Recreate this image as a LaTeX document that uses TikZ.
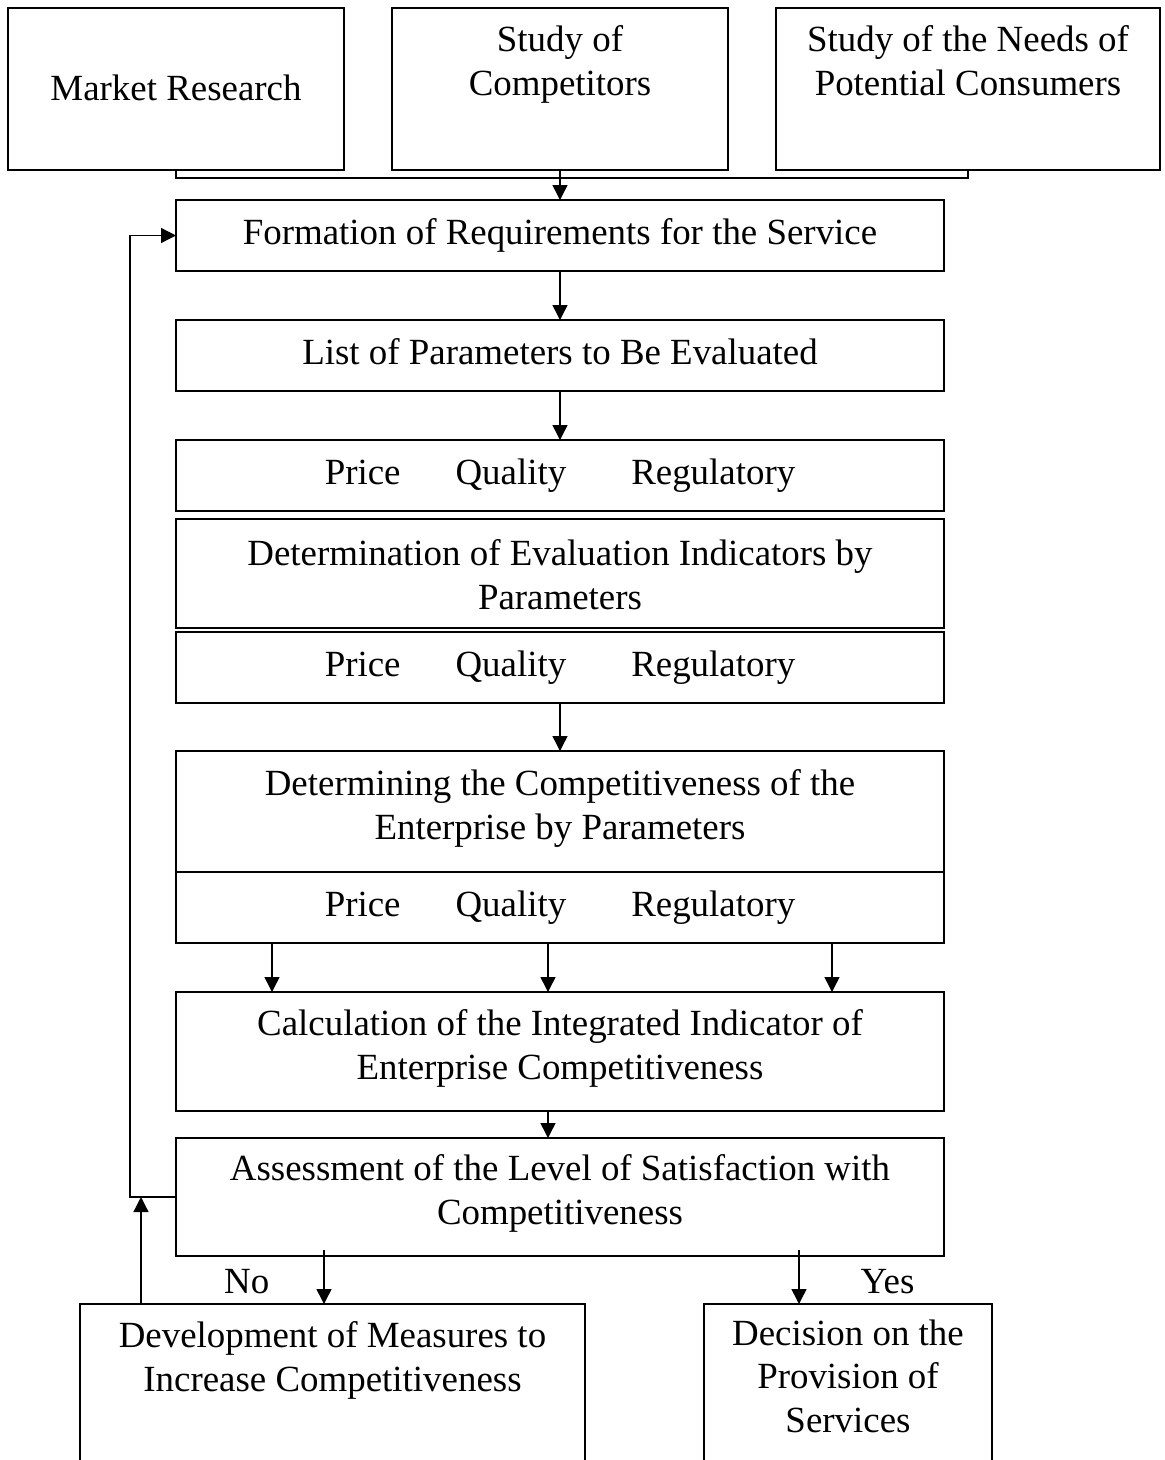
\documentclass[tikz,border=0pt]{standalone}
\usepackage{fontspec}
\setmainfont{Liberation Serif}
\usetikzlibrary{positioning, arrows.meta}
\tikzstyle{block} = [rectangle, draw=black, thick, align=center, outer sep=0, inner xsep=0.2cm, inner ysep=0.16cm, text height=0.72cm, text depth=0.38cm, minimum width=15.36cm, font=\fontsize{21}{24.5}\selectfont]
\tikzstyle{topblock} = [block, minimum width=6.72cm, text height=1.58cm, text depth=1.34cm]
\tikzstyle{openblock} = [block, draw=none]
\tikzstyle{answer} = [inner sep=0, font=\fontsize{21}{24.5}\selectfont]
\tikzstyle{arrow} = [thick,-{Triangle[length=0.3cm,width=0.3cm]}]
\newcommand{\params}{Price\hspace{1.1cm}Quality\hspace{1.3cm}Regulatory}

\begin{document}
\begin{tikzpicture}[node distance=0.98cm]
\useasboundingbox (0,0) rectangle (23.3,-29.2);

\node (res1) [topblock, anchor=north, text height=1.68cm, text depth=1.24cm] at (3.52,-0.16) {Market Research};
\node (res2) [topblock, anchor=north] at (11.2,-0.16) {Study of\\Competitors};
\node (res3) [topblock, anchor=north, minimum width=7.68cm] at (19.36,-0.16) {Study of the Needs of\\Potential Consumers};
\node (form) [block, below=0.6cm of res2] {Formation of Requirements for the Service};
\node (list) [block, below=of form] {List of Parameters to Be Evaluated};
\node (par1) [block, below=of list] {\params};
\node (det) [block, below=0.16cm of par1, text height=1.64cm, text depth=0.22cm] {Determination of Evaluation Indicators by\\Parameters};
\node (par2) [block, below=0.08cm of det] {\params};
\node (comp) [block, below=0.96cm of par2, text height=1.6cm, text depth=0.5cm] {Determining the Competitiveness of the\\Enterprise by Parameters};
\node (par3) [block, below=0cm of comp] {\params};
\node (calc) [block, below=of par3, text height=1.58cm, text depth=0.48cm] {Calculation of the Integrated Indicator of\\Enterprise Competitiveness};
\node (assess) [block, below=0.54cm of calc, text height=1.56cm, text depth=0.48cm] {Assessment of the Level of Satisfaction with\\Competitiveness};
\node (meas) [openblock, below=0.96cm of assess, xshift=-4.55cm, minimum width=10.1cm, text height=1.58cm, text depth=1.22cm] {Development of Measures to\\Increase Competitiveness};
\node (decis) [openblock, below=0.96cm of assess, xshift=5.76cm, minimum width=5.76cm, text height=2.4cm, text depth=0.4cm] {Decision on the\\Provision of\\Services};
\coordinate (back) at (2.6,0);
\coordinate (up) at (2.82,0);
\coordinate (no) at (6.48,-25.0);
\coordinate (yes) at (15.98,-25.0);

% open boxes at the bottom
\draw [thick] (meas.south west) -- (meas.north west) -- (meas.north east) -- (meas.south east);
\draw [thick] (decis.south west) -- (decis.north west) -- (decis.north east) -- (decis.south east);

\draw [thick] (res1.south) -- ++(0,-0.16) -| (res3.south);
\draw [arrow] (res2) -- (form);
\draw [arrow] (form) -- (list);
\draw [arrow] (list) -- (par1);
\draw [arrow] (par2) -- (comp);
\foreach \x in {1.92,7.44,13.12}
  \draw [arrow] ([xshift=\x cm]par3.south west) -- ([xshift=\x cm]calc.north west);
\draw [arrow] ([xshift=-0.24cm]calc.south) -- ([xshift=-0.24cm]assess.north);
\draw [arrow] (assess.west) -- (assess.west -| back) |- (form.west);
\draw [arrow] (meas.north -| up) -- (assess.west -| up);
\draw [arrow] (no) -- (no |- meas.north) node[midway, answer, left=1.08cm, yshift=-0.1cm]{No};
\draw [arrow] (yes) -- (yes |- decis.north) node[midway, answer, right=1.22cm, yshift=-0.1cm]{Yes};

\end{tikzpicture}
\end{document}
